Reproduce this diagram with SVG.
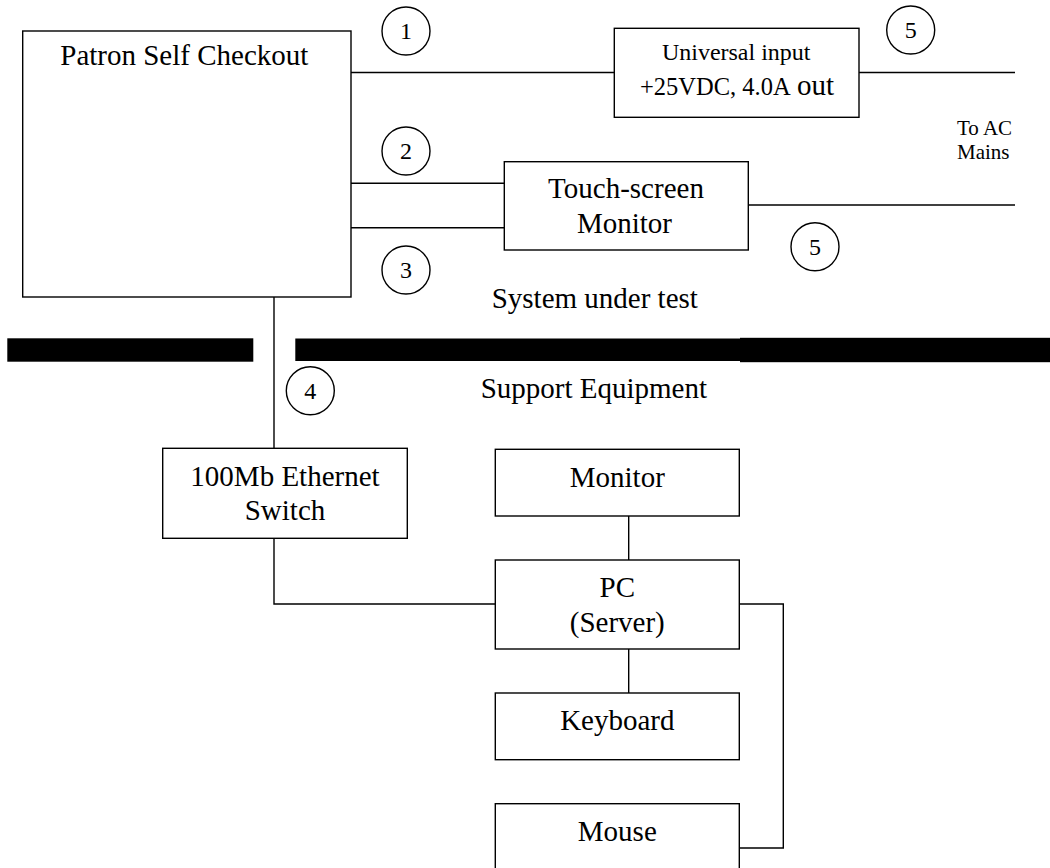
<svg xmlns="http://www.w3.org/2000/svg" width="1050" height="868" viewBox="0 0 1050 868">
<style>
.box{fill:#fff;stroke:#000;stroke-width:1.4}
.ln{fill:none;stroke:#000;stroke-width:1.4}
.t{font-family:"Liberation Serif","Times New Roman",serif;font-size:29px;fill:#000}
.m{text-anchor:middle}
.num{font-family:"Liberation Serif","Times New Roman",serif;font-size:24px;fill:#000;text-anchor:middle}
.bar{fill:#000}
</style>
<rect width="1050" height="868" fill="#fff"/>
<g id="connectors">
<line class="ln" x1="340" y1="72.5" x2="614.3" y2="72.5"/>
<line class="ln" x1="859" y1="72.5" x2="1015" y2="72.5"/>
<line class="ln" x1="349" y1="183.3" x2="504.3" y2="183.3"/>
<line class="ln" x1="349" y1="227.7" x2="504.3" y2="227.7"/>
<line class="ln" x1="748.3" y1="205" x2="1015" y2="205"/>
<line class="ln" x1="274" y1="297" x2="274" y2="448.3"/>
<polyline class="ln" points="274,538.3 274,604 495.3,604"/>
<line class="ln" x1="628.7" y1="516" x2="628.7" y2="560"/>
<line class="ln" x1="628.7" y1="649" x2="628.7" y2="693"/>
<polyline class="ln" points="739.3,604 783.3,604 783.3,848 739.3,848"/>
</g>
<g id="divider">
<rect class="bar" x="7.3" y="338.3" width="246" height="23.4"/>
<rect class="bar" x="295.3" y="338.5" width="445" height="22.5"/>
<rect class="bar" x="740" y="337.8" width="310" height="24.4"/>
</g>
<g id="patron">
<rect class="box" x="22.7" y="31" width="328.3" height="266"/>
<text class="t m" x="184.3" y="65">Patron Self Checkout</text>
</g>
<g id="psu">
<rect class="box" x="614.3" y="28.3" width="244.7" height="89"/>
<text class="t m" x="736.2" y="60" style="font-size:24px">Universal input</text>
<text class="t" x="640" y="95" style="font-size:24.5px">+25VDC, 4.0A<tspan x="797" style="font-size:29px">out</tspan></text>
</g>
<g id="touch">
<rect class="box" x="504.3" y="161.7" width="244" height="88.3"/>
<text class="t m" x="626" y="198.3">Touch-screen</text>
<text class="t m" x="624.5" y="232.7">Monitor</text>
</g>
<g id="switch">
<rect class="box" x="162.7" y="448.3" width="244.6" height="90"/>
<text class="t m" x="285" y="485.7">100Mb Ethernet</text>
<text class="t m" x="285" y="520">Switch</text>
</g>
<g id="monitor">
<rect class="box" x="495.3" y="449.3" width="244" height="66.7"/>
<text class="t m" x="617.3" y="486.7">Monitor</text>
</g>
<g id="pc">
<rect class="box" x="495.3" y="560" width="244" height="89"/>
<text class="t m" x="617.3" y="596.7">PC</text>
<text class="t m" x="617.3" y="631.7">(Server)</text>
</g>
<g id="keyboard">
<rect class="box" x="495.3" y="693" width="244" height="66.7"/>
<text class="t m" x="617.3" y="730">Keyboard</text>
</g>
<g id="mouse">
<rect class="box" x="495.3" y="803.7" width="244" height="80"/>
<text class="t m" x="617.3" y="840.7">Mouse</text>
</g>
<g id="labels">
<text class="t" x="491.7" y="308.3">System under test</text>
<text class="t" x="480.7" y="398.3">Support Equipment</text>
<text class="t" x="957" y="135" style="font-size:21px">To AC</text>
<text class="t" x="957" y="159" style="font-size:21px">Mains</text>
</g>
<g id="markers">
<circle class="ln" cx="406" cy="31" r="24"/><text class="num" x="406" y="39">1</text>
<circle class="ln" cx="406" cy="151" r="24"/><text class="num" x="406" y="159">2</text>
<circle class="ln" cx="406" cy="270" r="24"/><text class="num" x="406" y="278">3</text>
<circle class="ln" cx="310.3" cy="390.7" r="24"/><text class="num" x="310.3" y="398.7">4</text>
<circle class="ln" cx="910.7" cy="30" r="24"/><text class="num" x="910.7" y="38">5</text>
<circle class="ln" cx="815" cy="246.7" r="24"/><text class="num" x="815" y="254.7">5</text>
</g>
</svg>
